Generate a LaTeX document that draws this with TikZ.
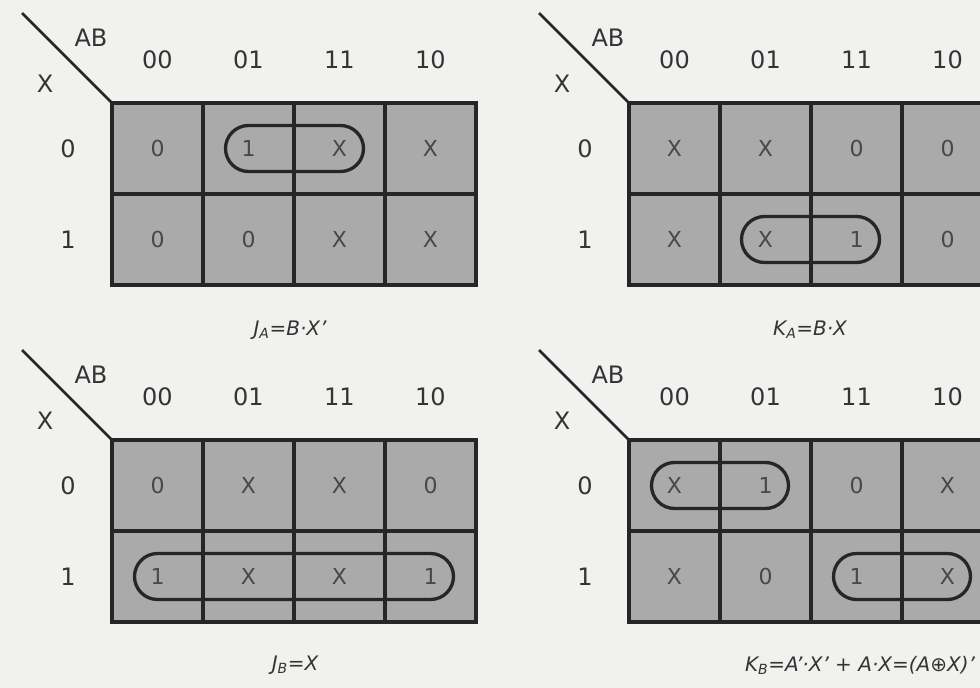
\documentclass[tikz,border=0pt]{standalone}
\usepackage{fontspec}
\setmainfont{DejaVu Sans}
\usetikzlibrary{calc}
\definecolor{bgc}{HTML}{F1F1EF}
\definecolor{cellc}{HTML}{AAAAAA}
\definecolor{linec}{HTML}{262626}
\definecolor{valc}{HTML}{484848}
\definecolor{labc}{HTML}{343434}
\tikzset{
  gridline/.style={linec, line width=3.3pt},
  frame/.style={linec, line width=3.8pt, fill=cellc},
  diag/.style={linec, line width=2.6pt},
  lab/.style={text=labc, font=\fontsize{24}{24}\selectfont, inner sep=0pt},
  val/.style={text=valc, font=\fontsize{22}{22}\selectfont, inner sep=0pt},
  captext/.style={text=labc, font=\fontsize{20}{20}\selectfont\itshape, inner sep=0pt},
  grp/.style={linec, line width=3.3pt, rounded corners=23pt},
}
\newcommand\kmap[4]{%
  \begin{scope}[shift={(#2,#3)}]
    \path[frame] (0,0) rectangle (364,182);
    \foreach \k in {1,2,3} {\draw[gridline] (91*\k,0) -- (91*\k,182);}
    \draw[gridline] (0,91) -- (364,91);
    \draw[frame, fill=none] (0,0) rectangle (364,182);
    \coordinate (#1-corner) at (0,0);
    \coordinate (#1-diagend) at (-90,-90);
    \draw[diag] (#1-diagend) -- (#1-corner);
    \node[lab] (#1-AB) at (-21,-65) {AB};
    \node[lab] (#1-X) at (-67,-19) {X};
    \foreach \h [count=\i from 0] in {00,01,11,10}
      {\node[lab] (#1-h\i) at (45.5+91*\i,-43) {\h};}
    \node[lab] (#1-r0) at (-44,46) {0};
    \node[lab] (#1-r1) at (-44,137) {1};
    \foreach \v [count=\i from 0] in {#4} {%
      \pgfmathtruncatemacro\cc{mod(\i,4)}%
      \pgfmathtruncatemacro\rr{div(\i,4)}%
      \node[val] (#1-\rr\cc) at (45.5+91*\cc,45.5+91*\rr) {\v};}
  \end{scope}}
\begin{document}
\begin{tikzpicture}[x=1pt,y=-1pt]
\useasboundingbox (0,0) rectangle (980,688);
\clip (0,0) rectangle (980,688);
\fill[bgc] (0,0) rectangle (980,688);
% J_A
\kmap{ja}{112}{103}{0,1,X,X,0,0,X,X}
\draw[grp] ($(ja-01)+(-23,-23)$) rectangle ($(ja-02)+(24,23)$);
\node[captext] (capja) at (290,330) {J\textsubscript{A}=B·X'};
% K_A
\kmap{ka}{629}{103}{X,X,0,0,X,X,1,0}
\draw[grp] ($(ka-11)+(-24,-23)$) rectangle ($(ka-12)+(23,23)$);
\node[captext] (capka) at (810,330) {K\textsubscript{A}=B·X};
% J_B
\kmap{jb}{112}{440}{0,X,X,0,1,X,X,1}
\draw[grp] ($(jb-10)+(-23,-23)$) rectangle ($(jb-13)+(23,23)$);
\node[captext] (capjb) at (295,665) {J\textsubscript{B}=X};
% K_B
\kmap{kb}{629}{440}{X,1,0,X,X,0,1,X}
\draw[grp] ($(kb-00)+(-23,-23)$) rectangle ($(kb-01)+(23,23)$);
\draw[grp] ($(kb-12)+(-23,-23)$) rectangle ($(kb-13)+(23,23)$);
\node[captext] (capkb) at (860,665) {K\textsubscript{B}=A'·X' + A·X=(A⊕X)'};
\end{tikzpicture}
\end{document}
